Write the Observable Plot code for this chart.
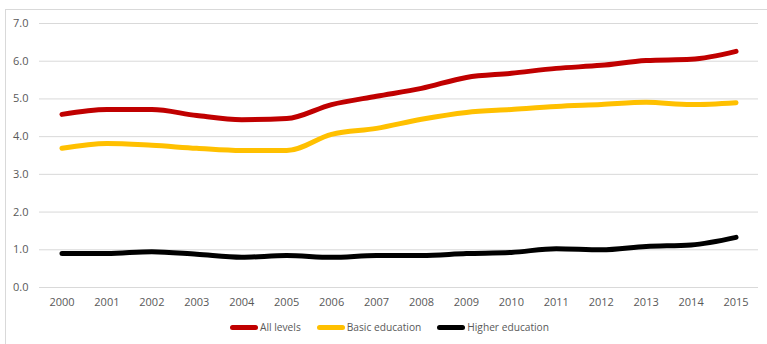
<!DOCTYPE html>
<html>
<head>
<meta charset="utf-8">
<script src="https://cdn.jsdelivr.net/npm/d3@7"></script>
<script src="https://cdn.jsdelivr.net/npm/@observablehq/plot@0.6"></script>
<style>
  body { margin: 0; background: #fff; font-family: "Open Sans", "Noto Sans", sans-serif; }
  #frame { position: absolute; left: 5px; top: 9px; width: 770px; height: 340px; border: 1px solid #d9d9d9; box-sizing: border-box; }
  #chart { position: absolute; left: 0; top: 0; }
  #legend { position: absolute; top: 320px; left: 0; width: 767px; box-sizing: border-box; padding-left: 12px; display: flex; justify-content: center; font-size: 10.2px; color: #595959; }
  .item { display: flex; align-items: center; margin: 0 8px; }
  .sw { width: 28px; height: 5px; border-radius: 3px; margin-right: 2px; }
</style>
</head>
<body>
<div id="frame"></div>
<div id="chart"></div>
<div id="legend"></div>
<script>
const years = ["2000","2001","2002","2003","2004","2005","2006","2007","2008","2009","2010","2011","2012","2013","2014","2015"];
const seriesNames = ["All levels", "Basic education", "Higher education"];
const seriesColors = ["#C00000", "#FFC000", "#000000"];
const allLevels = [4.59, 4.72, 4.72, 4.56, 4.45, 4.48, 4.85, 5.07, 5.28, 5.57, 5.68, 5.81, 5.89, 6.02, 6.05, 6.26];
const basicEducation = [3.69, 3.82, 3.77, 3.69, 3.63, 3.63, 4.06, 4.22, 4.46, 4.64, 4.72, 4.80, 4.85, 4.91, 4.85, 4.90];
const higherEducation = [0.90, 0.90, 0.95, 0.88, 0.80, 0.85, 0.80, 0.85, 0.85, 0.90, 0.93, 1.03, 1.00, 1.09, 1.13, 1.33];
const yTicks = [0, 1, 2, 3, 4, 5, 6, 7];

const seriesValues = [allLevels, basicEducation, higherEducation];
const data = seriesNames.flatMap((name, i) =>
  years.map((year, j) => ({ series: name, year, value: seriesValues[i][j] })));

const plot = Plot.plot({
  width: 767,
  height: 312,
  marginTop: 23,
  marginBottom: 25,
  marginLeft: 39,
  marginRight: 9,
  style: { fontFamily: "'Open Sans', 'Noto Sans', sans-serif", fontSize: "11px", color: "#595959", background: "transparent" },
  x: { type: "point", domain: years, padding: 0.5, round: false, label: null, tickSize: 0, tickPadding: 11 },
  y: { domain: [0, 7], ticks: yTicks, tickFormat: d => d.toFixed(1), label: null, tickSize: 0, tickPadding: 11 },
  color: { domain: seriesNames, range: seriesColors },
  marks: [
    Plot.gridY(yTicks, { stroke: "#d9d9d9", strokeOpacity: 1, strokeWidth: 1 }),
    Plot.line(data, { x: "year", y: "value", z: "series", stroke: "series", strokeWidth: 5, curve: "monotone-x", strokeLinecap: "round", strokeLinejoin: "round" })
  ]
});
document.getElementById("chart").appendChild(plot);

const legend = document.getElementById("legend");
seriesNames.forEach((name, i) => {
  const item = document.createElement("div");
  item.className = "item";
  const sw = document.createElement("div");
  sw.className = "sw";
  sw.style.background = seriesColors[i];
  const label = document.createElement("span");
  label.textContent = name;
  item.appendChild(sw);
  item.appendChild(label);
  legend.appendChild(item);
});
</script>
</body>
</html>
